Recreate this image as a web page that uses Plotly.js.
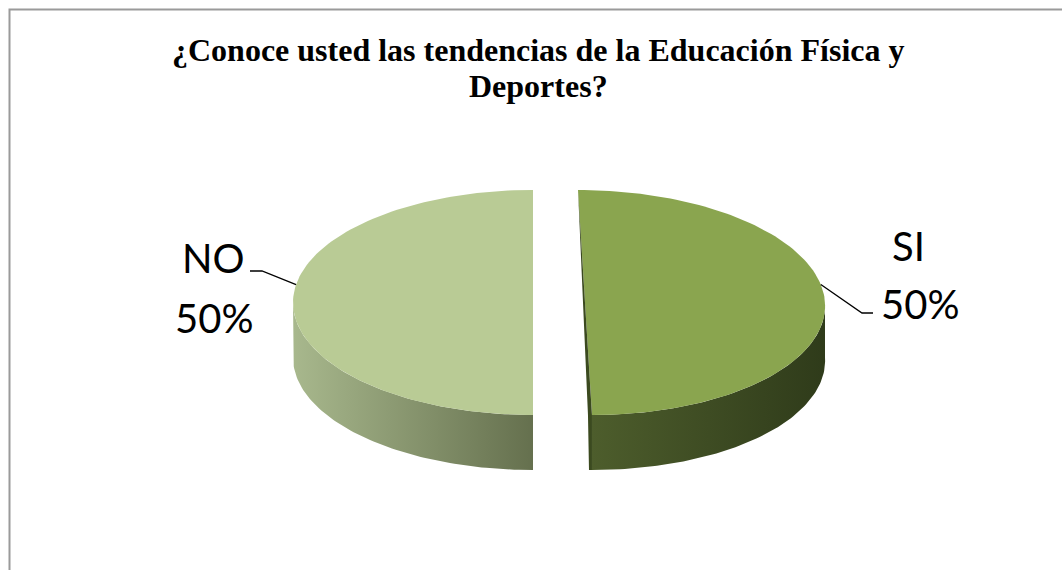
<!DOCTYPE html>
<html>
<head>
<meta charset="utf-8">
<script src="https://cdn.plot.ly/plotly-3.0.1.min.js"></script>
<style>html,body{margin:0;padding:0;background:#fff;}#chart{width:1062px;height:570px;}</style>
</head>
<body>
<div id="chart"></div>
<script>
// ---- data ----
const labels = ['SI', 'NO'];
const values = [50, 50];
const titleLines = ['¿Conoce usted las tendencias de la Educación Física y', 'Deportes?'];

// ---- style ----
const topColors = ['#8aa54f', '#b9cb95'];
const sideColors = [['#4d5d2c', '#2f3b1a'], ['#a8b88d', '#65704e']];
const cutFaceColor = '#3b4a1f';

// ---- geometry (pixel space) ----
const W = 1062, H = 570;
const cx0 = 559, cy = 302.5, rx = 240, ry = 112.5, depth = 55, explode = 26;
const skew = [0.062, 0];
const titleX = 538, titleY = [50, 86];
const labelPos = [
  {name: [908, 246], pct: [920, 304], elbow: [862, 313], end: [873, 313]},
  {name: [213, 258], pct: [214, 318], elbow: [262, 271], end: [250, 271]}
];

const total = values.reduce((a, b) => a + b, 0);
function pt(cx, th, s) {
  const x = cx + rx * Math.sin(th);
  const y = cy - ry * Math.cos(th);
  return [x + s * (y - cy), y];
}
function arc(cx, a0, a1, s, n) {
  const pts = [];
  for (let k = 0; k <= n; k++) pts.push(pt(cx, a0 + (a1 - a0) * k / n, s));
  return pts;
}

const sides = [], tops = [], extras = [];
const annotations = [];
const shapes = [];
let cum = 0;
values.forEach((v, i) => {
  const a0 = cum / total * 2 * Math.PI;
  const a1 = (cum + v) / total * 2 * Math.PI;
  cum += v;
  const bis = (a0 + a1) / 2;
  const cx = cx0 + explode * Math.sin(bis);
  const s = skew[i];
  const center = [cx, cy];
  // top surface
  const topPts = [center].concat(arc(cx, a0, a1, s, 120)).concat([center]);
  tops.push({
    type: 'scatter', mode: 'lines', x: topPts.map(p => p[0]), y: topPts.map(p => p[1]),
    fill: 'toself', fillcolor: topColors[i], line: {width: 0, color: topColors[i]},
    hoverinfo: 'skip', showlegend: false
  });
  // visible side wall (front half)
  const lo = Math.max(a0, Math.PI / 2), hi = Math.min(a1, 3 * Math.PI / 2);
  if (hi > lo) {
    const up = arc(cx, lo, hi, s, 80);
    const down = up.slice().reverse().map(p => [p[0], p[1] + depth]);
    const poly = up.concat(down).concat([up[0]]);
    sides.push({
      type: 'scatter', mode: 'lines', x: poly.map(p => p[0]), y: poly.map(p => p[1]),
      fill: 'toself', fillcolor: sideColors[i][0],
      fillgradient: {type: 'horizontal', colorscale: [[0, sideColors[i][0]], [1, sideColors[i][1]]]},
      line: {width: 0, color: sideColors[i][0]}, hoverinfo: 'skip', showlegend: false
    });
  }
  // cut face sliver for skewed slice
  if (s !== 0) {
    const p1 = pt(cx, a0, s), p2 = pt(cx, a1, s);
    const face = [p1, p2, [p2[0], p2[1] + depth], [p2[0] - 3, p2[1] + depth], [p2[0] - 4, p2[1]], p1];
    extras.push({
      type: 'scatter', mode: 'lines', x: face.map(p => p[0]), y: face.map(p => p[1]),
      fill: 'toself', fillcolor: cutFaceColor, line: {width: 0, color: cutFaceColor},
      hoverinfo: 'skip', showlegend: false
    });
  }
  // labels
  const pct = Math.round(v / total * 100) + '%';
  const L = labelPos[i];
  annotations.push({x: L.name[0], y: L.name[1], xref: 'x', yref: 'y', text: labels[i], showarrow: false,
    font: {family: 'Lato, "Noto Sans", sans-serif', size: 40, color: '#000'}});
  annotations.push({x: L.pct[0], y: L.pct[1], xref: 'x', yref: 'y', text: pct, showarrow: false,
    font: {family: 'Lato, "Noto Sans", sans-serif', size: 40, color: '#000'}});
  // leader line from slice edge
  const anchor = pt(cx, bis - 0.16 * Math.sin(bis), s);
  extras.push({
    type: 'scatter', mode: 'lines', x: [anchor[0], L.elbow[0], L.end[0]], y: [anchor[1], L.elbow[1], L.end[1]],
    line: {color: '#000', width: 1.3}, hoverinfo: 'skip', showlegend: false
  });
});

// title lines
titleLines.forEach((t, k) => {
  annotations.push({x: titleX, y: titleY[k], xref: 'x', yref: 'y', text: '<b>' + t + '</b>', showarrow: false,
    xanchor: 'center', yanchor: 'middle',
    font: {family: '"Liberation Serif", "Times New Roman", serif', size: 32, color: '#000'}});
});

shapes.push({type: 'rect', xref: 'x', yref: 'y', x0: 9.5, y0: 9.5, x1: 1075, y1: 590,
  line: {color: '#9a9a9a', width: 2}, fillcolor: 'rgba(0,0,0,0)', layer: 'below'});

const layout = {
  width: W, height: H,
  margin: {l: 0, r: 0, t: 0, b: 0},
  paper_bgcolor: '#fff', plot_bgcolor: '#fff',
  xaxis: {range: [0, W], visible: false, fixedrange: true},
  yaxis: {range: [H, 0], visible: false, fixedrange: true},
  showlegend: false,
  annotations: annotations,
  shapes: shapes
};

Plotly.newPlot('chart', sides.concat(tops).concat(extras), layout, {displayModeBar: false, staticPlot: true});
</script>
</body>
</html>
